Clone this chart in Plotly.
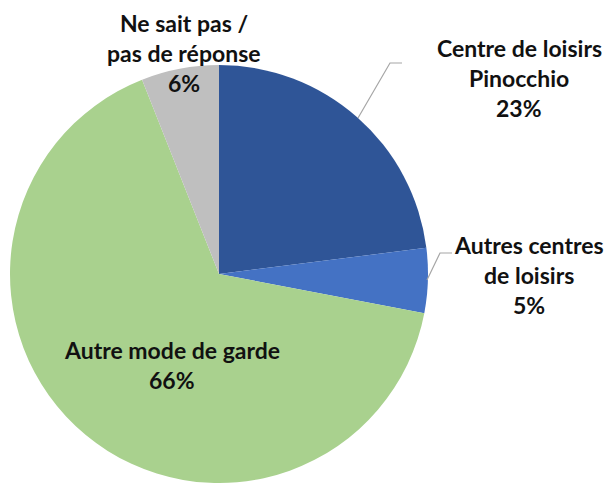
import plotly.graph_objects as go

labels = ["Centre de loisirs\nPinocchio", "Autres centres\nde loisirs", "Autre mode de garde", "Ne sait pas /\npas de réponse"]
values = [23, 5, 66, 6]
colors = ["#2F5597", "#4472C4", "#A9D18E", "#BFBFBF"]

W, H = 608, 483
# label block positions (center x, first-line y) in pixels
label_pos = [(519, 48), (529, 245), (172, 350), (184, 23)]
line_gap = 30

fig = go.Figure(go.Pie(
    labels=[l.replace("\n", " ") for l in labels], values=values, sort=False,
    direction="clockwise", rotation=0,
    marker=dict(colors=colors, line=dict(width=0)),
    textinfo="none", hoverinfo="label+percent",
    domain=dict(x=[10/W, 428/W], y=[0, 418/H]),
))

annotations = []
for lab, val, (cx, cy) in zip(labels, values, label_pos):
    lines = lab.split("\n") + [f"{val}%"]
    for i, t in enumerate(lines):
        annotations.append(dict(
            x=cx/W, y=1-(cy+i*line_gap)/H, xref="paper", yref="paper",
            text=f"<b>{t}</b>", showarrow=False, xanchor="center", yanchor="middle",
            font=dict(family="Lato", size=23, color="#111111")))

def px(x, y):
    return x/W, 1-y/H

shapes = []
for pts in [[(402, 63), (390, 63), (358, 118)], [(452, 253), (440, 253), (427, 280)]]:
    path = "M " + " L ".join(f"{px(*p)[0]},{px(*p)[1]}" for p in pts)
    shapes.append(dict(type="path", path=path, xref="paper", yref="paper",
                       line=dict(color="#A6A6A6", width=1.2)))

fig.update_layout(width=W, height=H, margin=dict(l=0, r=0, t=0, b=0),
                  showlegend=False, paper_bgcolor="white",
                  annotations=annotations, shapes=shapes)
fig.write_html("out.html", config={"displayModeBar": False},
               post_script="document.body.style.margin='0px';")
